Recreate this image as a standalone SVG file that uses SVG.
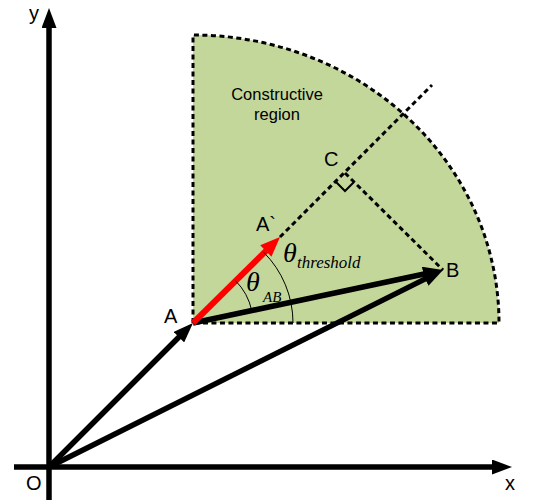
<svg xmlns="http://www.w3.org/2000/svg" width="536" height="504" viewBox="0 0 536 504">
<style>
.lbl{font-family:"Liberation Sans",Arial,sans-serif;fill:#000}
.greek{font-family:"Liberation Serif","Times New Roman",serif;font-style:italic;fill:#000}
.vec{stroke:#000;stroke-width:5.5;fill:none}
.red{stroke:#ff0000;stroke-width:6;fill:none}
.dash{stroke:#000;stroke-width:3;stroke-dasharray:5 3.5;fill:none}
.thin{stroke:#000;stroke-width:1;fill:none}
</style>
<defs>
<marker id="ah" markerUnits="userSpaceOnUse" viewBox="0 0 20 15" markerWidth="20" markerHeight="15" refX="8" refY="7.5" orient="auto">
<path d="M0,0 L20,7.5 L0,15 z" fill="#000"/>
</marker>
<marker id="ahr" markerUnits="userSpaceOnUse" viewBox="0 0 20 16" markerWidth="20" markerHeight="16" refX="8" refY="8" orient="auto">
<path d="M0,0 L20,8 L0,16 z" fill="#ff0000"/>
</marker>
</defs>
<rect width="536" height="504" fill="#fff"/>
<g id="region">
<path d="M193,323 L193,35 A306,288 0 0 1 499,323 Z" fill="#c4d79b"/>
<path d="M193,323 L193,35 A306,288 0 0 1 499,323 Z" class="dash"/>
<text class="lbl" x="277" y="100" font-size="16.5" text-anchor="middle">Constructive</text>
<text class="lbl" x="277" y="120" font-size="16.5" text-anchor="middle">region</text>
</g>
<g id="axes">
<line x1="49" y1="500" x2="49" y2="20" class="vec" marker-end="url(#ah)"/>
<line x1="14" y1="467" x2="500" y2="467" class="vec" marker-end="url(#ah)"/>
<text class="lbl" x="29" y="20" font-size="20">y</text>
<text class="lbl" x="505" y="490" font-size="20">x</text>
<text class="lbl" x="26" y="490" font-size="20">O</text>
</g>
<g id="connectors">
<line x1="280" y1="237" x2="432" y2="85" class="dash"/>
<line x1="345" y1="173" x2="443" y2="270" class="dash"/>
<path d="M336,182 L345,191 L354,182" fill="none" stroke="#000" stroke-width="2"/>
<line x1="49" y1="467" x2="184.5" y2="331.5" class="vec" marker-end="url(#ah)"/>
<line x1="49" y1="467" x2="432.3" y2="275.4" class="vec" marker-end="url(#ah)"/>
<line x1="193" y1="323" x2="431.3" y2="272.5" class="vec" marker-end="url(#ah)"/>
<line x1="193" y1="323" x2="271.5" y2="245.4" class="red" marker-end="url(#ahr)"/>
<path d="M251.7,310.5 A60,60 0 0 0 235.4,280.6" class="thin"/>
<path d="M293,323 A100,100 0 0 0 263.7,252.3" class="thin"/>
</g>
<g id="labels">
<text class="lbl" x="164" y="323" font-size="20">A</text>
<text class="lbl" x="256" y="231" font-size="20">A`</text>
<text class="lbl" x="324" y="166" font-size="20">C</text>
<text class="lbl" x="446" y="277" font-size="20">B</text>
<text class="greek" x="246" y="291" font-size="28">θ</text>
<text class="greek" x="263" y="302" font-size="15">AB</text>
<text class="greek" x="283" y="262" font-size="28">θ</text>
<text class="greek" x="297" y="268" font-size="17">threshold</text>
</g>
</svg>
